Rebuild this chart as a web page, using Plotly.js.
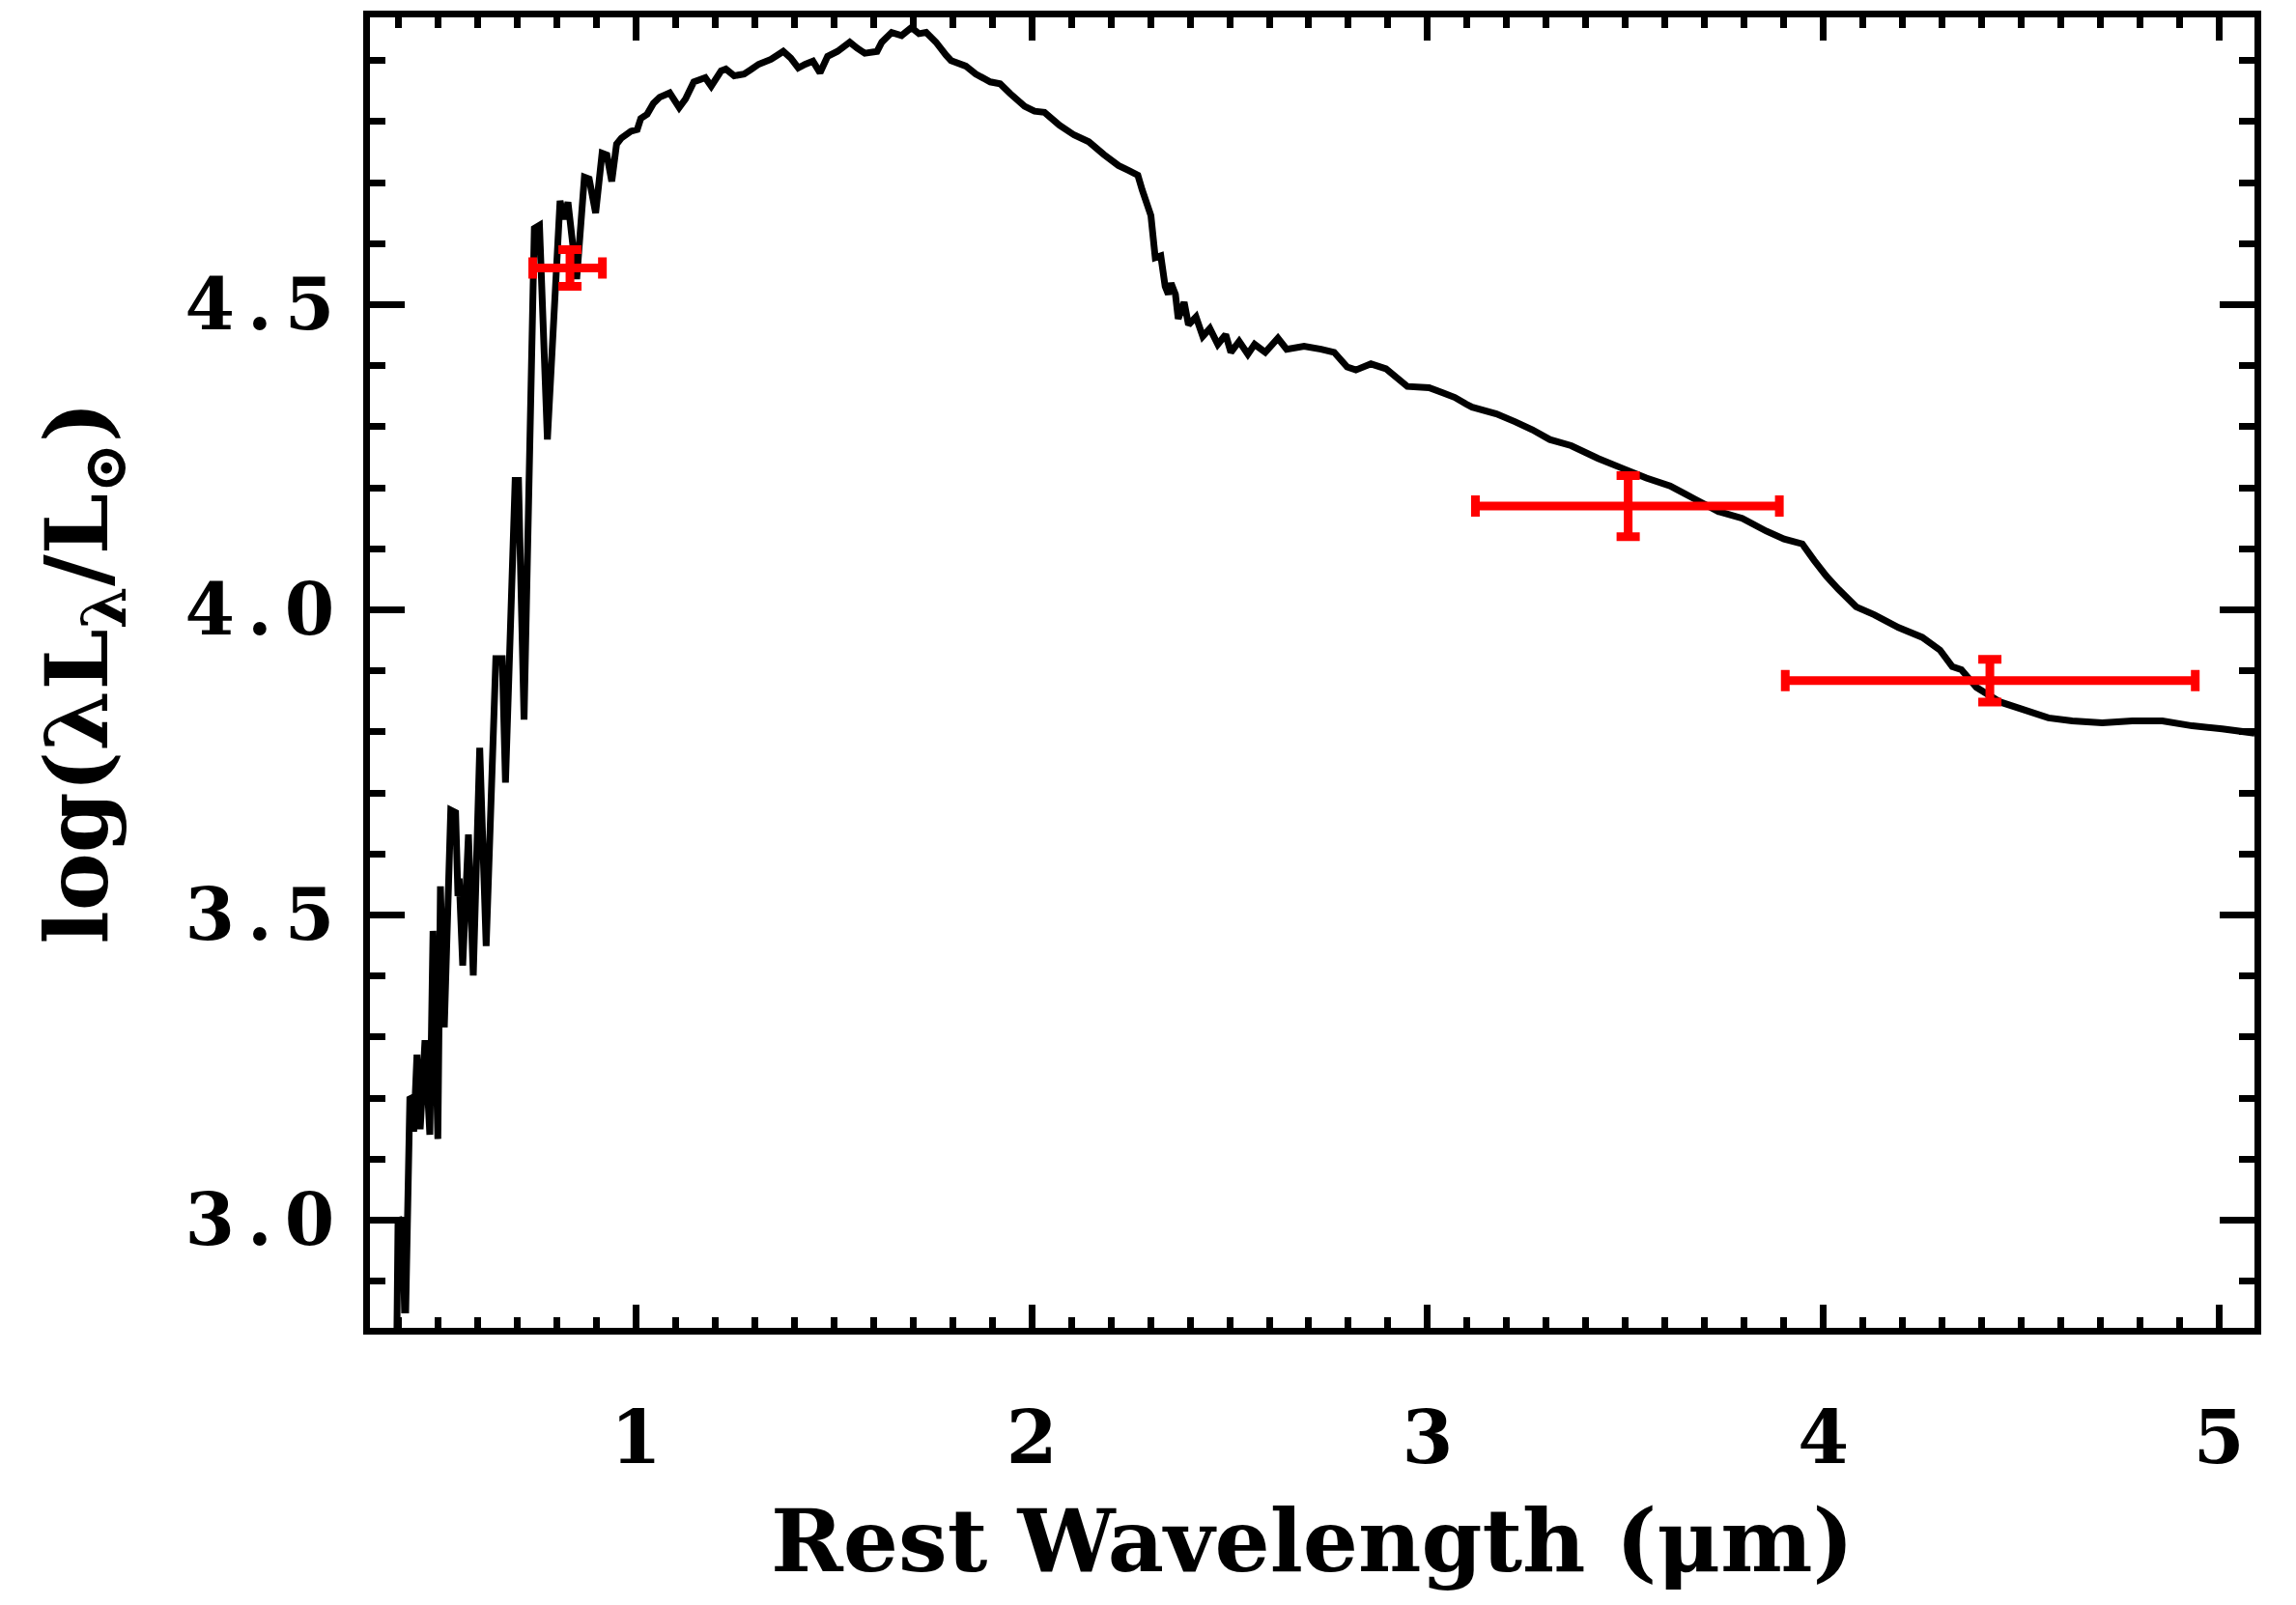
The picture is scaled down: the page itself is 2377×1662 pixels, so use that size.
<!DOCTYPE html>
<html>
<head>
<meta charset="utf-8">
<script src="https://cdn.plot.ly/plotly-3.0.1.min.js"></script>
<style>
  html, body { margin: 0; padding: 0; background: #fff; }
  #chart { width: 2377px; height: 1662px; }
  .ytick text { letter-spacing: 13px; }
</style>
</head>
<body>
<div id="chart"></div>
<script>
// Model spectrum: rest wavelength (micron) and log(lambda L_lambda / L_sun)
const specX = [0.3955,0.3985,0.4015,0.4060,0.4100,0.4150,0.4180,0.4285,0.4330,0.4382,0.4464,0.4545,0.4667,0.4789,0.4870,0.4992,0.5057,0.5155,0.5318,0.5440,0.5500,0.5530,0.5620,0.5765,0.5887,0.6050,0.6213,0.6457,0.6619,0.6701,0.6945,0.7030,0.7170,0.7430,0.7560,0.7760,0.8080,0.8180,0.8280,0.8500,0.8695,0.8816,0.8979,0.9142,0.9264,0.9386,0.9508,0.9630,0.9870,1.0030,1.0120,1.0280,1.0440,1.0600,1.0850,1.1090,1.1250,1.1460,1.1750,1.1900,1.2150,1.2270,1.2480,1.2730,1.2900,1.3100,1.3410,1.3720,1.3910,1.4100,1.4280,1.4470,1.4650,1.4840,1.5090,1.5400,1.5590,1.5780,1.6090,1.6210,1.6460,1.6710,1.6960,1.7150,1.7330,1.7580,1.7830,1.7960,1.8330,1.8580,1.8950,1.9200,1.9450,1.9820,2.0070,2.0320,2.0700,2.1070,2.1440,2.1820,2.2190,2.2440,2.2680,2.2790,2.3010,2.3120,2.3260,2.3370,2.3450,2.3520,2.3630,2.3700,2.3850,2.3960,2.4150,2.4320,2.4500,2.4700,2.4900,2.5030,2.5240,2.5460,2.5630,2.5900,2.6220,2.6440,2.6880,2.7310,2.7640,2.7970,2.8190,2.8570,2.8950,2.9490,3.0040,3.0370,3.0690,3.0980,3.1130,3.1740,3.2220,3.2650,3.3090,3.3630,3.4310,3.4920,3.5530,3.6130,3.6740,3.7350,3.7950,3.8560,3.9010,3.9470,3.9770,4.0080,4.0380,4.0830,4.1290,4.1900,4.2500,4.2950,4.3260,4.3490,4.3870,4.4470,4.5080,4.5690,4.6290,4.7050,4.7810,4.8570,4.9320,5.0080,5.0900];
const specY = [2.800,2.995,3.003,3.000,2.995,2.853,2.853,3.202,3.200,3.145,3.271,3.149,3.295,3.140,3.474,3.133,3.547,3.316,3.672,3.668,3.531,3.560,3.417,3.632,3.401,3.774,3.449,3.920,3.920,3.717,4.212,4.212,3.820,4.625,4.630,4.279,4.670,4.640,4.668,4.542,4.709,4.706,4.650,4.748,4.745,4.702,4.763,4.773,4.784,4.787,4.805,4.812,4.830,4.840,4.847,4.823,4.837,4.865,4.872,4.858,4.883,4.886,4.875,4.878,4.885,4.894,4.902,4.915,4.904,4.888,4.894,4.899,4.880,4.907,4.915,4.930,4.920,4.912,4.915,4.930,4.946,4.941,4.954,4.944,4.946,4.930,4.909,4.900,4.891,4.878,4.865,4.862,4.846,4.825,4.817,4.815,4.794,4.778,4.767,4.746,4.728,4.720,4.712,4.688,4.646,4.577,4.580,4.530,4.517,4.535,4.517,4.477,4.504,4.467,4.480,4.448,4.461,4.435,4.451,4.422,4.440,4.419,4.435,4.422,4.445,4.427,4.432,4.427,4.422,4.398,4.393,4.403,4.395,4.366,4.364,4.356,4.348,4.337,4.332,4.321,4.308,4.295,4.279,4.269,4.248,4.232,4.216,4.203,4.182,4.161,4.150,4.129,4.116,4.108,4.081,4.055,4.034,4.005,3.992,3.971,3.955,3.934,3.907,3.902,3.873,3.849,3.836,3.823,3.818,3.815,3.818,3.818,3.810,3.805,3.798];

// Photometric points with error bars
const ptX = [0.833, 3.507, 4.421];
const ptY = [4.560, 4.170, 3.884];
const ptXErrMinus = [0.094, 0.386, 0.517];
const ptXErrPlus = [0.082, 0.382, 0.519];
const ptYErr = [0.030, 0.050, 0.035];

const xTickVals = [1, 2, 3, 4, 5];
const xTickText = ['1', '2', '3', '4', '5'];
const yTickVals = [3.0, 3.5, 4.0, 4.5];
const yTickText = ['3.0', '3.5', '4.0', '4.5'];

const FONT = '"DejaVu Serif", "Liberation Serif", serif';

const traces = [
  {
    x: specX, y: specY, type: 'scatter', mode: 'lines',
    line: {color: '#000', width: 7, simplify: false},
    hoverinfo: 'skip', showlegend: false
  },
  {
    x: ptX, y: ptY, type: 'scatter', mode: 'markers',
    marker: {color: 'red', size: 1},
    error_x: {type: 'data', symmetric: false, array: ptXErrPlus, arrayminus: ptXErrMinus,
              color: 'red', thickness: 9, width: 11},
    error_y: {type: 'data', array: ptYErr, color: 'red', thickness: 9, width: 12},
    showlegend: false
  }
];

const layout = {
  width: 2377, height: 1662,
  margin: {l: 383, r: 43, t: 18, b: 287, pad: 0},
  paper_bgcolor: '#fff', plot_bgcolor: '#fff',
  showlegend: false,
  font: {family: FONT, color: '#000'},
  xaxis: {
    range: [0.3276, 5.0896],
    showgrid: false, zeroline: false,
    showline: true, linecolor: '#000', linewidth: 7, mirror: 'allticks',
    ticks: 'inside', ticklen: 24, tickwidth: 7, tickcolor: '#000',
    tickmode: 'array', tickvals: xTickVals, ticktext: xTickText,
    minor: {dtick: 0.1, tick0: 0, ticks: 'inside', ticklen: 11, tickwidth: 7, tickcolor: '#000', showgrid: false},
    tickfont: {family: FONT, size: 76, color: '#000', weight: 'bold'},
    ticklabelstandoff: 42,
    title: {text: 'Rest Wavelength (μm)', font: {family: FONT, size: 90, color: '#000', weight: 'bold'}, standoff: 34}
  },
  yaxis: {
    range: [2.8236, 4.9707],
    showgrid: false, zeroline: false,
    showline: true, linecolor: '#000', linewidth: 7, mirror: 'allticks',
    ticks: 'inside', ticklen: 36, tickwidth: 7, tickcolor: '#000',
    tickmode: 'array', tickvals: yTickVals, ticktext: yTickText,
    minor: {dtick: 0.1, tick0: 0, ticks: 'inside', ticklen: 16, tickwidth: 7, tickcolor: '#000', showgrid: false},
    tickfont: {family: FONT, size: 74, color: '#000', weight: 'bold'},
    ticklabelstandoff: 2,
    title: {text: 'log(λL<sub>λ</sub>/L<sub>⊙</sub>)', font: {family: FONT, size: 90, color: '#000', weight: 'bold'}, standoff: 52}
  }
};

Plotly.newPlot('chart', traces, layout, {staticPlot: true, displayModeBar: false});
</script>
</body>
</html>
